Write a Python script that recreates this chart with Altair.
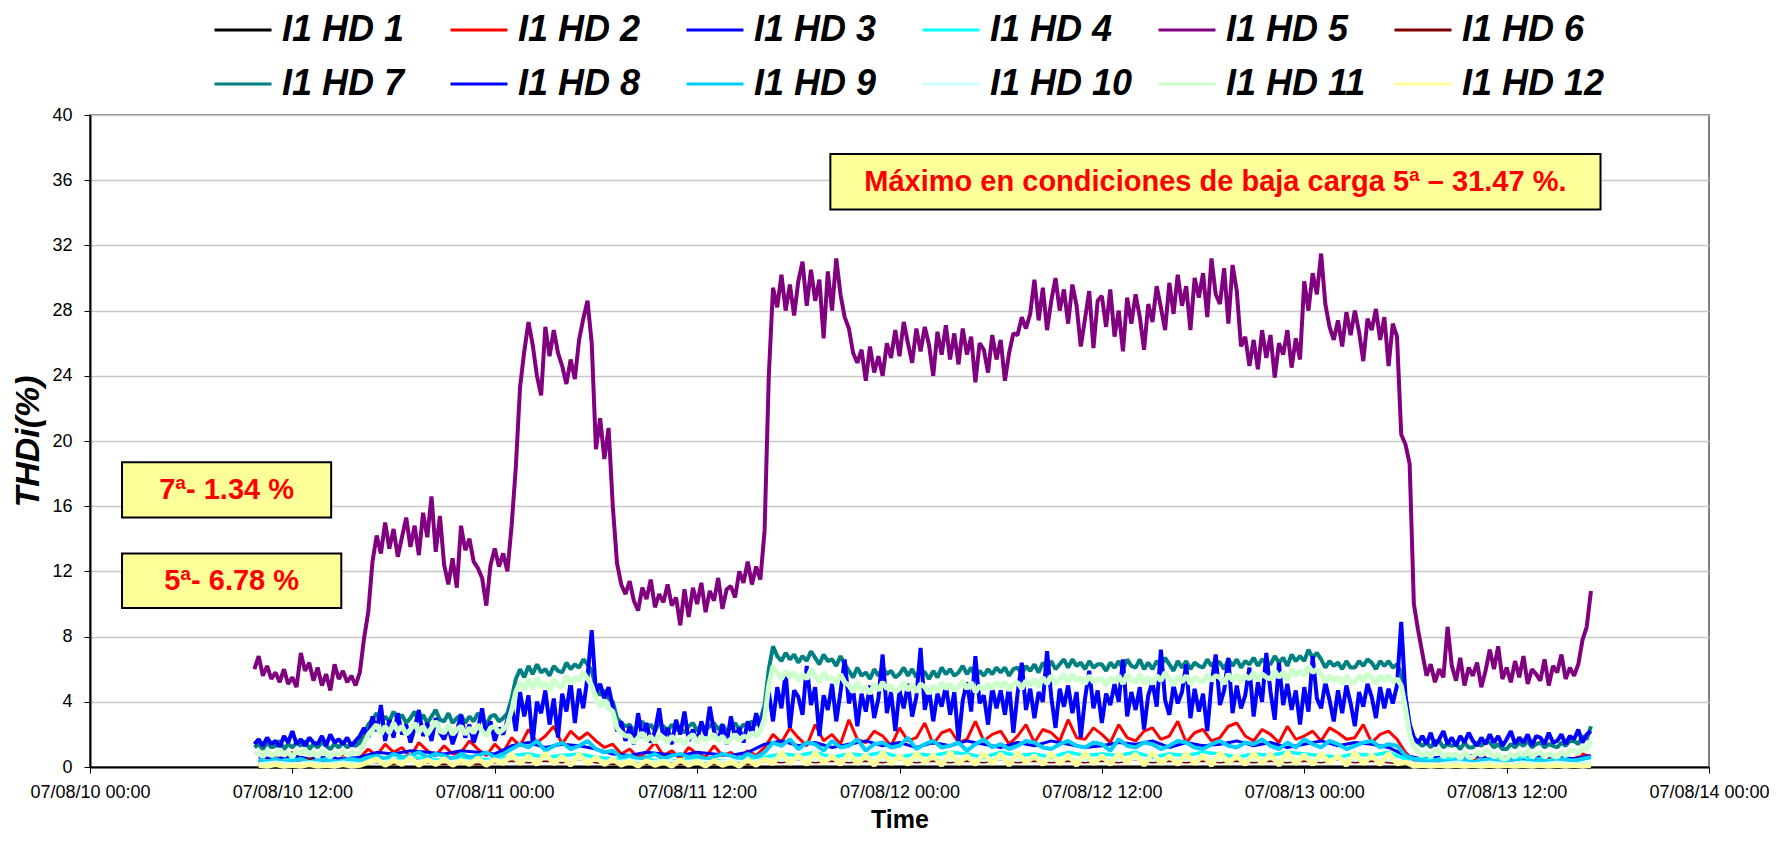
import altair as alt
import pandas as pd

SERIES = ["I1 HD 1", "I1 HD 2", "I1 HD 3", "I1 HD 4", "I1 HD 5", "I1 HD 6",
          "I1 HD 7", "I1 HD 8", "I1 HD 9", "I1 HD 10", "I1 HD 11", "I1 HD 12"]
COLORS = ["#000000", "#FF0000", "#0000FF", "#00FFFF", "#800080", "#800000",
          "#008080", "#0000FF", "#00CCFF", "#CCFFFF", "#CCFFCC", "#FFFF99"]

X_TICKS = ["2007-08-10 00:00", "2007-08-10 12:00", "2007-08-11 00:00", "2007-08-11 12:00",
           "2007-08-12 00:00", "2007-08-12 12:00", "2007-08-13 00:00", "2007-08-13 12:00",
           "2007-08-14 00:00"]
Y_TICKS = [0, 4, 8, 12, 16, 20, 24, 28, 32, 36, 40]

# 15-minute samples starting 2007-08-10 09:45
START_15 = "2007-08-10 09:45"
HD5 = [6.0,
       6.8, 5.6, 6.2, 5.4, 5.8, 5.2, 6.0, 5.1, 5.5, 4.9, 7.0, 5.9, 6.4, 5.3, 6.1, 5.0,
       5.7, 4.7, 6.3, 5.4, 5.9, 5.2, 5.6, 5.0, 5.8, 7.9, 9.5, 12.6,
       14.2, 13.1, 15.0, 13.4, 14.6, 12.9, 14.1, 15.3, 13.5, 14.8, 13.0, 15.6,
       14.1, 16.6, 13.2, 15.4, 12.4, 11.2, 12.8, 11.0, 14.8, 13.3, 14.0, 12.6,
       12.2, 11.6, 9.9, 12.4, 13.4, 12.3, 13.1, 12.0, 14.8, 18.4, 23.3, 25.5,
       27.3, 25.9, 24.0, 22.8, 27.0, 25.2, 26.8, 25.4, 24.6, 23.5, 25.0, 23.8,
       26.2, 27.5, 28.6, 26.0, 19.5, 21.4, 18.9, 20.8, 16.0, 12.5, 11.2, 10.6,
       11.4, 10.2, 9.6, 11.0, 10.3, 11.5, 9.8, 10.6, 10.1, 11.2, 9.9, 10.4,
       8.7, 10.9, 9.2, 11.0, 10.0, 11.3, 9.5, 10.8, 10.2, 11.6, 9.7, 10.9,
       11.1, 10.4, 12.0, 11.3, 12.6, 11.2, 12.3, 11.5, 14.5, 24.0, 29.4, 28.2,
       30.2, 28.0, 29.6, 27.7, 29.8, 31.0, 28.3, 30.5, 28.6, 29.9, 26.3, 30.4,
       28.0, 31.2, 29.0, 27.6, 26.9, 25.4, 24.8, 25.6, 23.7, 25.8, 24.2, 25.2,
       24.0, 26.0, 25.1, 26.8, 25.2, 27.3, 26.0, 24.8, 26.9, 25.5, 27.0, 25.9,
       24.0, 26.7, 25.3, 27.1, 25.0, 26.6, 24.7, 26.9, 25.3, 26.4, 23.6, 26.0,
       25.6, 24.2, 26.5, 25.0, 26.2, 23.7, 25.4, 26.6, 26.5, 27.6, 26.9, 27.8,
       29.9, 27.4, 29.4, 26.8, 28.6, 30.0, 28.0, 29.3, 27.2, 29.6, 28.3, 25.8,
       27.5, 29.2, 25.7, 28.6, 28.9, 27.0, 29.3, 26.4, 28.0, 25.5, 28.8, 27.2,
       29.0, 27.6, 25.6, 28.4, 27.3, 29.5, 28.2, 26.8, 29.7, 27.8, 30.2, 28.3,
       29.5, 26.8, 30.0, 28.8, 30.3, 27.6, 31.2, 29.0, 28.4, 30.6, 27.2, 30.8,
       29.2, 25.8, 26.4, 24.6, 26.2, 24.4, 26.8, 25.1, 26.5, 23.9, 26.0, 25.3,
       26.8, 24.5, 26.3, 25.0, 29.8, 28.0, 30.3, 29.0, 31.5, 28.4, 27.0, 26.2,
       27.4, 25.8, 27.9, 26.5, 28.0, 26.7, 24.9, 27.5, 26.8, 28.1, 26.2, 27.6,
       24.6, 27.2, 26.4, 20.4, 19.8, 18.6, 10.0, 8.4, 7.0, 5.6, 6.3, 5.2,
       6.0, 5.5, 8.6, 6.2, 5.3, 6.7, 5.0, 6.1, 5.6, 6.4, 4.9, 5.9,
       7.2, 6.0, 7.4, 5.4, 6.1, 5.2, 6.5, 5.5, 6.8, 5.1, 6.0, 5.7,
       5.3, 6.6, 5.0, 6.2, 5.8, 6.9, 5.4, 6.1, 5.6, 6.3, 7.8, 8.6,
       10.8]
HD8 = [1.4,
       1.7, 1.3, 1.8, 1.4, 1.6, 1.2, 1.9, 1.5, 2.2, 1.4, 1.7, 1.3, 1.8, 1.5, 1.4, 1.9,
       1.3, 2.0, 1.5, 1.7, 1.4, 1.8, 1.3, 1.6, 1.9, 2.4, 1.8, 3.1,
       2.2, 3.8, 1.6, 2.9, 1.8, 3.3, 2.0, 2.6, 1.5, 2.4, 3.5, 1.9,
       2.7, 1.6, 3.0, 2.1, 1.7, 2.5, 1.4, 2.2, 3.2, 1.8, 2.6, 1.5,
       2.3, 3.6, 1.9, 2.8, 1.6, 2.4, 2.0, 2.9, 3.8, 2.2, 4.6, 3.1,
       4.4, 1.5, 4.0, 3.3, 4.7, 2.6, 4.2, 1.8, 4.5, 3.4, 5.2, 2.7,
       4.8, 3.6, 5.5, 8.4, 4.6, 5.1, 4.2, 4.9, 3.7, 2.2, 2.8, 1.6,
       2.5, 1.4, 3.3, 1.8, 2.7, 1.5, 2.2, 3.6, 1.7, 2.4, 1.4, 2.9,
       2.0, 3.4, 1.6, 2.3, 1.5, 2.8, 1.9, 3.7, 2.2, 1.6, 2.6, 1.4,
       3.1, 1.8, 2.4, 1.5, 2.8, 2.0, 3.3, 2.4, 3.5, 4.6, 2.8, 4.9,
       3.6, 5.8, 2.4, 4.7, 4.3, 3.2, 6.2, 3.8, 4.9, 1.9, 4.4, 3.5,
       5.1, 2.8, 4.6, 6.6, 3.9, 4.8, 2.5, 4.5, 3.4, 5.0, 3.0, 4.2,
       6.9, 3.3, 4.6, 2.2, 4.7, 3.6, 5.1, 3.1, 4.3, 7.3, 3.5, 4.8,
       2.8, 4.5, 3.7, 5.0, 3.2, 4.6, 1.6, 4.1, 5.2, 3.4, 6.8, 3.9,
       4.4, 2.6, 4.9, 3.6, 4.7, 3.2, 5.0, 2.1, 4.5, 6.4, 3.5, 4.8,
       3.0, 4.6, 4.0, 7.1, 4.3, 2.4, 4.8, 3.7, 5.0, 3.3, 4.6, 1.8,
       4.2, 5.9, 3.6, 4.7, 2.7, 4.5, 3.8, 5.1, 4.0, 6.6, 3.1, 4.6,
       3.5, 4.9, 2.3, 4.4, 5.2, 3.7, 7.2, 4.1, 3.2, 5.0, 3.9, 4.6,
       6.3, 3.0, 4.8, 3.4, 4.5, 2.2, 5.1, 6.9, 3.8, 4.7, 6.7, 3.3,
       5.0, 3.6, 4.4, 6.1, 3.1, 5.2, 4.0, 7.0, 4.6, 2.9, 6.4, 3.8,
       5.1, 3.5, 4.7, 2.6, 4.9, 3.4, 6.8, 4.2, 3.6, 5.2, 4.1, 2.8,
       4.7, 3.3, 5.0, 3.9, 2.5, 4.6, 3.7, 5.1, 4.3, 3.0, 4.9, 3.6,
       4.8, 3.9, 5.0, 8.9, 4.4, 2.6, 1.8, 1.5, 1.9, 1.4, 2.1, 1.3,
       1.7, 2.2, 1.4, 1.8, 1.3, 1.9, 1.5, 2.1, 1.6, 1.3, 1.8, 1.4,
       2.0, 1.5, 1.9, 1.3, 1.7, 2.2, 1.4, 1.8, 1.5, 2.0, 1.3, 1.9,
       1.8, 1.4, 2.1, 1.5, 1.6, 2.0, 1.4, 1.9, 1.7, 2.3, 1.5, 2.0,
       2.2]
HD7 = [1.2,
       1.4, 1.1, 1.5, 1.2, 1.3, 1.6, 1.1, 1.4, 1.2, 1.5, 1.3, 1.6, 1.1, 1.4, 1.2, 1.5,
       1.3, 1.1, 1.4, 1.2, 1.5, 1.2, 1.4, 1.3, 1.5, 2.0, 2.6, 2.9,
       3.3, 2.7, 3.1, 2.8, 3.4, 2.9, 3.2, 2.7, 3.0, 3.4, 2.8, 3.2,
       2.7, 3.1, 3.5, 2.9, 2.8, 3.3, 2.7, 3.0, 3.2, 2.7, 3.1, 2.8,
       3.3, 2.9, 2.6, 3.1, 3.2, 2.8, 3.0, 3.3, 4.2, 5.4, 6.0, 5.5,
       6.2, 5.7, 6.3, 5.8, 6.0, 5.6, 6.2, 5.9, 5.8, 6.4, 6.0, 6.3,
       6.1, 6.6, 6.3, 5.9, 4.9, 4.4, 4.7, 4.2, 4.0, 3.0, 2.7, 2.5,
       2.6, 2.2, 2.5, 2.8, 2.3, 2.6, 2.2, 2.7, 2.5, 2.2, 2.6, 2.3,
       2.4, 2.1, 2.5, 2.7, 2.2, 2.6, 2.3, 2.5, 2.7, 2.3, 2.6, 2.2,
       2.4, 2.7, 2.3, 2.6, 2.5, 2.8, 2.6, 2.9, 3.8, 6.0, 7.4, 6.8,
       6.5, 7.0, 6.6, 6.9, 6.4, 6.8, 6.5, 7.1, 6.7, 6.3, 6.9, 6.5,
       6.6, 6.2, 6.8, 6.3, 5.9, 5.5, 6.1, 5.6, 5.8, 5.4, 6.0, 5.6,
       6.1, 5.7, 5.9, 5.5, 5.7, 6.1, 5.6, 6.0, 5.5, 6.0, 5.8, 5.4,
       5.9, 5.5, 6.1, 5.7, 6.0, 5.6, 5.8, 6.2, 5.7, 6.1, 5.5, 5.9,
       5.6, 6.0, 5.7, 6.1, 5.8, 6.1, 5.6, 6.0, 6.1, 5.7, 6.2, 5.9,
       6.3, 5.8, 6.4, 6.0, 6.5, 6.0, 6.3, 6.6, 6.1, 6.6, 6.2, 6.4,
       6.0, 6.5, 6.1, 6.3, 6.3, 5.9, 6.4, 6.1, 6.5, 6.0, 6.6, 6.2,
       6.1, 6.6, 6.0, 6.4, 6.0, 6.5, 6.2, 6.7, 6.3, 5.9, 6.5, 6.1,
       6.5, 6.0, 6.4, 6.2, 6.1, 6.6, 6.2, 6.5, 6.4, 6.0, 6.6, 6.2,
       6.6, 6.1, 6.5, 6.3, 6.7, 6.2, 6.6, 6.4, 6.3, 6.8, 6.4, 6.7,
       6.2, 6.9, 6.5, 6.8, 6.5, 7.2, 6.7, 7.0, 6.6, 6.1, 6.5, 6.2,
       6.4, 6.0, 6.5, 6.1, 6.1, 6.5, 6.2, 6.6, 6.4, 6.0, 6.5, 6.2,
       6.5, 6.1, 6.3, 5.8, 4.2, 2.6, 1.8, 1.5, 1.3, 1.5, 1.2, 1.6,
       1.6, 1.2, 1.4, 1.3, 1.4, 1.1, 1.5, 1.2, 1.2, 1.5, 1.3, 1.6,
       1.5, 1.2, 1.4, 1.1, 1.1, 1.4, 1.2, 1.5, 1.3, 1.6, 1.2, 1.4,
       1.5, 1.2, 1.4, 1.3, 1.2, 1.5, 1.3, 1.6, 1.6, 1.4, 1.9, 1.7,
       2.5]
HD11 = [0.8,
        0.9, 0.6, 1.0, 0.7, 0.8, 1.1, 0.7, 0.9, 0.6, 1.0, 0.8, 1.1, 0.7, 0.9, 0.6, 1.0,
        0.8, 0.6, 0.9, 0.7, 1.0, 0.7, 0.9, 0.8, 0.9, 1.4, 2.0, 2.3,
        2.6, 2.0, 2.5, 2.1, 2.7, 2.2, 2.5, 2.0, 2.3, 2.7, 2.1, 2.5,
        2.0, 2.4, 2.8, 2.2, 2.1, 2.6, 2.0, 2.3, 2.5, 2.0, 2.4, 2.1,
        2.6, 2.2, 1.9, 2.4, 2.5, 2.1, 2.3, 2.6, 3.5, 4.6, 5.2, 4.7,
        5.4, 4.8, 5.5, 4.9, 5.2, 4.7, 5.4, 5.0, 4.9, 5.6, 5.1, 5.5,
        5.3, 5.8, 5.4, 5.0, 4.2, 3.7, 4.1, 3.6, 3.4, 2.4, 2.1, 1.9,
        1.9, 1.5, 1.8, 2.1, 1.6, 1.9, 1.5, 2.0, 1.8, 1.5, 1.9, 1.6,
        1.7, 1.4, 1.8, 2.0, 1.5, 1.9, 1.6, 1.8, 2.0, 1.6, 1.9, 1.5,
        1.7, 2.0, 1.6, 1.9, 1.8, 2.1, 1.9, 2.2, 3.0, 5.0, 6.2, 5.8,
        5.4, 5.9, 5.5, 5.8, 5.3, 5.7, 5.4, 6.0, 5.6, 5.2, 5.8, 5.4,
        5.5, 5.1, 5.7, 5.2, 5.0, 4.6, 5.2, 4.7, 4.9, 4.5, 5.1, 4.7,
        5.2, 4.8, 5.0, 4.6, 4.8, 5.2, 4.7, 5.1, 4.6, 5.1, 4.9, 4.5,
        5.0, 4.6, 5.2, 4.8, 5.1, 4.7, 4.9, 5.3, 4.8, 5.2, 4.6, 5.0,
        4.7, 5.1, 4.8, 5.2, 4.9, 5.2, 4.7, 5.1, 5.2, 4.8, 5.3, 5.0,
        5.4, 4.9, 5.5, 5.1, 5.6, 5.1, 5.4, 5.7, 5.2, 5.7, 5.3, 5.5,
        5.1, 5.6, 5.2, 5.4, 5.4, 5.0, 5.5, 5.2, 5.6, 5.1, 5.7, 5.3,
        5.2, 5.7, 5.1, 5.5, 5.1, 5.6, 5.3, 5.8, 5.4, 5.0, 5.6, 5.2,
        5.6, 5.1, 5.5, 5.3, 5.2, 5.7, 5.3, 5.6, 5.5, 5.1, 5.7, 5.3,
        5.7, 5.2, 5.6, 5.4, 5.8, 5.3, 5.7, 5.5, 5.4, 5.9, 5.5, 5.8,
        5.3, 6.0, 5.6, 5.9, 5.6, 6.2, 5.8, 6.0, 5.7, 5.2, 5.6, 5.3,
        5.5, 5.1, 5.6, 5.2, 5.2, 5.6, 5.3, 5.7, 5.5, 5.1, 5.6, 5.3,
        5.6, 5.2, 5.4, 5.0, 3.6, 2.0, 1.2, 0.9, 0.7, 0.9, 0.6, 1.0,
        1.0, 0.6, 0.8, 0.7, 0.8, 0.5, 0.9, 0.6, 0.6, 0.9, 0.7, 1.0,
        0.9, 0.6, 0.8, 0.5, 0.5, 0.8, 0.6, 0.9, 0.7, 1.0, 0.6, 0.8,
        0.9, 0.6, 0.8, 0.7, 0.6, 0.9, 0.7, 1.0, 1.0, 0.8, 1.2, 1.1,
        1.6]

# 30-minute samples starting 2007-08-10 10:00
START_30 = "2007-08-10 10:00"
HD2 = [0.4, 0.2, 0.6, 0.3, 0.9, 0.4, 0.3, 0.7, 0.5, 0.2, 0.8, 0.4, 0.6, 1.1,
       0.7, 1.4, 0.9, 1.2, 0.6, 1.5, 1.0, 0.7, 1.3, 0.8, 0.9, 1.6, 1.1, 0.7, 1.4, 0.9,
       1.8, 1.3, 2.3, 1.5, 1.9, 2.5, 1.4, 2.2, 1.7, 2.1, 1.6, 1.2, 1.4, 0.8,
       1.1, 0.6, 0.9, 1.5, 0.7, 1.0, 0.5, 1.2, 0.8, 0.6, 1.3, 0.7, 0.9, 0.5, 1.0, 0.7,
       1.2, 2.0, 1.5, 2.4, 1.8, 1.3, 2.6, 1.6, 2.0, 1.4, 2.9, 1.7, 1.5, 2.2,
       1.9, 1.3, 2.4, 1.6, 1.8, 2.7, 1.4, 2.1, 2.3, 1.5, 1.7, 2.8, 1.6, 2.0,
       2.2, 1.4, 1.9, 2.6, 1.5, 2.3, 2.1, 1.6, 2.9, 1.8, 1.7, 2.4, 2.0, 1.5,
       2.6, 1.8, 1.6, 2.2, 2.4, 1.7, 1.9, 2.8, 1.5, 2.1, 2.3, 1.6, 1.8, 2.5,
       2.7, 1.9, 1.6, 2.3, 2.0, 1.5, 2.5, 1.7, 1.9, 2.2, 1.6, 2.4, 2.1, 1.7,
       1.8, 2.6, 1.5, 2.0, 2.2, 1.7, 0.9, 0.4, 0.3, 0.6, 0.2, 0.5, 0.7, 0.3,
       0.4, 0.8, 0.3, 0.5, 0.6, 0.2, 0.4, 0.7, 0.3, 0.5, 0.6, 0.3, 0.5, 0.8,
       0.6]
HD9 = [0.4, 0.3, 0.5, 0.3, 0.4, 0.5, 0.3, 0.4, 0.5, 0.3, 0.4, 0.5, 0.4, 0.6,
       0.7, 0.5, 0.8, 0.6, 0.7, 0.9, 0.6, 0.8, 0.7, 0.5, 0.8, 0.6, 0.7, 0.9, 0.6, 0.8,
       1.1, 1.4, 1.2, 1.6, 1.0, 1.3, 1.5, 1.1, 1.3, 1.6, 1.1, 0.9, 1.0, 0.6,
       0.7, 0.5, 0.6, 0.8, 0.5, 0.7, 0.8, 0.6, 0.7, 0.5, 0.6, 0.8, 0.7, 0.5, 0.8, 0.6,
       0.9, 1.5, 1.3, 1.7, 1.1, 1.5, 1.4, 1.0, 1.6, 1.2, 1.3, 1.7, 1.0, 1.4,
       1.5, 1.2, 1.3, 1.8, 1.1, 1.4, 1.6, 1.2, 1.3, 1.5, 1.0, 1.4, 1.7, 1.2,
       1.4, 1.1, 1.3, 1.6, 1.5, 1.2, 1.1, 1.4, 1.6, 1.3, 1.2, 1.5, 1.4, 1.0,
       1.7, 1.3, 1.2, 1.5, 1.4, 1.1, 1.3, 1.6, 1.5, 1.2, 1.1, 1.4, 1.6, 1.3,
       1.2, 1.5, 1.4, 1.7, 1.3, 1.1, 1.5, 1.2, 1.7, 1.4, 1.2, 1.6, 1.4, 1.1,
       1.3, 1.5, 1.6, 1.2, 1.4, 1.3, 0.7, 0.5, 0.4, 0.3, 0.5, 0.3, 0.4, 0.5,
       0.3, 0.4, 0.5, 0.3, 0.4, 0.5, 0.3, 0.4, 0.5, 0.3, 0.4, 0.5, 0.3, 0.5,
       0.6]
HD12 = [0.1, 0.05, 0.15, 0.05, 0.1, 0.05, 0.15, 0.05, 0.1, 0.05, 0.15, 0.05, 0.1, 0.3,
        0.5, 0.1, 0.4, 0.15, 0.6, 0.1, 0.45, 0.15, 0.5, 0.1, 0.4, 0.15, 0.55, 0.1, 0.45, 0.2,
        0.8, 0.2, 0.7, 0.15, 0.85, 0.2, 0.65, 0.1, 0.8, 0.2, 0.6, 0.15, 0.5, 0.1,
        0.35, 0.05, 0.4, 0.1, 0.3, 0.05, 0.45, 0.1, 0.35, 0.05, 0.4, 0.1, 0.3, 0.05, 0.45, 0.1,
        0.5, 0.2, 0.9, 0.2, 0.75, 0.15, 0.9, 0.25, 0.7, 0.15, 0.85, 0.2, 0.75, 0.1,
        0.9, 0.2, 0.7, 0.15, 0.85, 0.25, 0.75, 0.1, 0.9, 0.2, 0.7, 0.15, 0.85, 0.2,
        0.8, 0.1, 0.9, 0.25, 0.7, 0.15, 0.85, 0.2, 0.75, 0.1, 0.9, 0.2, 0.7, 0.15,
        0.85, 0.25, 0.8, 0.1, 0.9, 0.2, 0.7, 0.15, 0.85, 0.2, 0.75, 0.1, 0.9, 0.25,
        0.7, 0.15, 0.85, 0.2, 0.8, 0.1, 0.9, 0.2, 0.75, 0.15, 0.85, 0.25, 0.7, 0.1,
        0.9, 0.2, 0.75, 0.15, 0.85, 0.2, 0.3, 0.05, 0.1, 0.05, 0.1, 0.05, 0.1, 0.05,
        0.1, 0.05, 0.1, 0.05, 0.1, 0.05, 0.1, 0.05, 0.1, 0.05, 0.1, 0.05, 0.1, 0.05,
        0.1]

# hourly samples starting 2007-08-10 10:00
START_60 = "2007-08-10 10:00"
HD1 = [0.0, 0.0, 0.0, 0.0, 0.0, 0.0, 0.0, 0.0, 0.0, 0.0,
       0.0, 0.0, 0.0, 0.0, 0.0, 0.0, 0.0, 0.0, 0.0, 0.0,
       0.0, 0.0, 0.0, 0.0, 0.0, 0.0, 0.0, 0.0, 0.0, 0.0,
       0.0, 0.0, 0.0, 0.0, 0.0, 0.0, 0.0, 0.0, 0.0, 0.0,
       0.0, 0.0, 0.0, 0.0, 0.0, 0.0, 0.0, 0.0, 0.0, 0.0,
       0.0, 0.0, 0.0, 0.0, 0.0, 0.0, 0.0, 0.0, 0.0, 0.0,
       0.0, 0.0, 0.0, 0.0, 0.0, 0.0, 0.0, 0.0, 0.0, 0.0,
       0.0, 0.0, 0.0, 0.0, 0.0, 0.0, 0.0, 0.0, 0.0, 0.0]
HD3 = [0.6, 0.5, 0.7, 0.5, 0.6, 0.5, 0.6, 0.9, 0.8, 1.0,
       0.9, 0.8, 1.0, 0.9, 0.8, 1.3, 1.5, 1.2, 1.4, 1.3,
       1.1, 0.8, 0.7, 0.9, 0.8, 0.7, 0.9, 0.8, 0.7, 0.9,
       1.4, 1.6, 1.3, 1.5, 1.2, 1.4, 1.6, 1.3, 1.5, 1.2,
       1.5, 1.3, 1.6, 1.4, 1.2, 1.5, 1.3, 1.6, 1.4, 1.2,
       1.3, 1.5, 1.4, 1.6, 1.2, 1.5, 1.3, 1.4, 1.6, 1.3,
       1.5, 1.2, 1.4, 1.6, 1.3, 1.5, 1.4, 1.2, 0.7, 0.5,
       0.6, 0.5, 0.7, 0.5, 0.6, 0.5, 0.7, 0.6, 0.5, 0.7]
HD4 = [0.4, 0.3, 0.5, 0.3, 0.4, 0.3, 0.4, 0.5, 0.4, 0.6,
       0.5, 0.4, 0.6, 0.5, 0.4, 0.7, 0.8, 0.6, 0.7, 0.8,
       0.6, 0.5, 0.4, 0.5, 0.3, 0.4, 0.5, 0.4, 0.3, 0.5,
       0.6, 0.8, 0.7, 0.9, 0.6, 0.8, 0.7, 0.9, 0.6, 0.8,
       0.7, 0.9, 0.8, 0.6, 0.9, 0.7, 0.8, 0.6, 0.9, 0.7,
       0.8, 0.7, 0.9, 0.6, 0.8, 0.7, 0.9, 0.8, 0.6, 0.8,
       0.7, 0.9, 0.8, 0.7, 0.6, 0.8, 0.7, 0.9, 0.5, 0.5,
       0.4, 0.6, 0.3, 0.5, 0.4, 0.6, 0.3, 0.5, 0.4, 0.6]
HD6 = [0.2, 0.1, 0.3, 0.5, 0.2, 0.1, 0.2, 0.3, 0.2, 0.4,
       0.3, 0.2, 0.3, 0.2, 0.3, 0.4, 0.3, 0.4, 0.3, 0.5,
       0.3, 0.2, 0.3, 0.2, 0.3, 0.2, 0.3, 0.2, 0.3, 0.2,
       0.4, 0.3, 0.5, 0.3, 0.4, 0.3, 0.4, 0.3, 0.5, 0.3,
       0.4, 0.3, 0.4, 0.3, 0.5, 0.3, 0.4, 0.3, 0.4, 0.3,
       0.4, 0.3, 0.5, 0.3, 0.4, 0.3, 0.4, 0.3, 0.4, 0.3,
       0.4, 0.3, 0.4, 0.3, 0.5, 0.3, 0.4, 0.3, 0.2, 0.1,
       0.2, 0.1, 0.2, 0.1, 0.2, 0.1, 0.2, 0.1, 0.2, 0.1]
HD10 = [0.2, 0.3, 0.2, 0.3, 0.2, 0.3, 0.2, 0.3, 0.4, 0.3,
        0.4, 0.3, 0.4, 0.3, 0.4, 0.5, 0.4, 0.5, 0.4, 0.5,
        0.4, 0.3, 0.4, 0.3, 0.4, 0.3, 0.4, 0.3, 0.4, 0.3,
        0.5, 0.4, 0.5, 0.4, 0.5, 0.4, 0.5, 0.4, 0.5, 0.4,
        0.5, 0.4, 0.5, 0.4, 0.5, 0.4, 0.5, 0.4, 0.5, 0.4,
        0.5, 0.4, 0.5, 0.4, 0.5, 0.4, 0.5, 0.4, 0.5, 0.4,
        0.5, 0.4, 0.5, 0.4, 0.5, 0.4, 0.5, 0.4, 0.3, 0.2,
        0.2, 0.3, 0.2, 0.3, 0.2, 0.3, 0.2, 0.3, 0.2, 0.3]

SERIES_DATA = [
    (HD1, START_60, 60), (HD2, START_30, 30), (HD3, START_60, 60), (HD4, START_60, 60),
    (HD5, START_15, 15), (HD6, START_60, 60), (HD7, START_15, 15), (HD8, START_15, 15),
    (HD9, START_30, 30), (HD10, START_60, 60), (HD11, START_15, 15), (HD12, START_30, 30),
]
STROKE = [3, 3, 3, 3.5, 4, 3, 4, 4, 4, 3, 5, 5]

NOTE_TEXT = ["Máximo en condiciones de baja carga 5ª – 31.47 %.", "7ª- 1.34 %", "5ª- 6.78 %"]
NOTE_T1 = ["2007-08-11 19:54", "2007-08-10 01:54", "2007-08-10 01:54"]
NOTE_T2 = ["2007-08-13 17:34", "2007-08-10 14:18", "2007-08-10 14:54"]
NOTE_V1 = [34.2, 15.3, 9.75]
NOTE_V2 = [37.6, 18.7, 13.1]


def ms(s):
    return int(pd.Timestamp(s, tz="UTC").value // 10**6)


def series_frame(name, values, start, step):
    t0 = pd.Timestamp(start, tz="UTC")
    times = [int((t0 + pd.Timedelta(minutes=step * i)).value // 10**6) for i in range(len(values))]
    return pd.DataFrame({"t": times, "v": values, "s": name})


FONT = "Liberation Sans"

x_enc = alt.X("t:T", title="Time",
              scale=alt.Scale(type="utc", domain=[ms(X_TICKS[0]), ms(X_TICKS[-1])]),
              axis=alt.Axis(values=[ms(t) for t in X_TICKS], format="%y/%m/%d %H:%M",
                            grid=False, labelFontSize=18, labelFont=FONT, labelColor="#000000",
                            labelPadding=10, tickSize=6, tickColor="#000000",
                            domainColor="#000000", domainWidth=2, labelFlush=False,
                            labelOverlap=False,
                            titleFontSize=25, titleFont=FONT, titleFontWeight="bold",
                            titleColor="#000000", titlePadding=6))
y_enc = alt.Y("v:Q", title="THDi(%)",
              scale=alt.Scale(domain=[0, 40], nice=False, zero=True),
              axis=alt.Axis(values=Y_TICKS, grid=True, gridColor="#C8C8C8", gridWidth=1.5,
                            labelFontSize=18, labelFont=FONT, labelColor="#000000",
                            labelPadding=12, tickSize=6, tickColor="#000000",
                            domainColor="#000000", domainWidth=2,
                            titleFontSize=34, titleFont=FONT, titleFontWeight="bold",
                            titleFontStyle="italic", titleColor="#000000", titlePadding=6))
color_enc = alt.Color("s:N", scale=alt.Scale(domain=SERIES, range=COLORS),
                      legend=alt.Legend(title=None, orient="none", legendX=123, legendY=-115,
                                        direction="horizontal", columns=6, gridAlign="all",
                                        symbolType="stroke", symbolSize=3249,
                                        symbolStrokeWidth=3, labelFontSize=36, labelFont=FONT,
                                        labelFontStyle="italic", labelFontWeight="bold",
                                        labelColor="#000000", labelOffset=9, labelLimit=400,
                                        columnPadding=19, rowPadding=6))

layers = []
for name, (vals, start, step), sw in zip(SERIES, SERIES_DATA, STROKE):
    df = series_frame(name, vals, start, step)
    layers.append(alt.Chart(df).mark_line(strokeWidth=sw, strokeJoin="bevel").encode(
        x=x_enc, y=y_enc, color=color_enc))

notes = pd.DataFrame({"text": NOTE_TEXT,
                      "t1": [ms(t) for t in NOTE_T1], "t2": [ms(t) for t in NOTE_T2],
                      "v1": NOTE_V1, "v2": NOTE_V2})
notes["tc"] = (notes["t1"] + notes["t2"]) / 2
notes["vc"] = (notes["v1"] + notes["v2"]) / 2

boxes = alt.Chart(notes).mark_rect(fill="#FFFF99", stroke="#000000", strokeWidth=2).encode(
    x=alt.X("t1:T"), x2="t2:T", y=alt.Y("v1:Q"), y2="v2:Q")
labels = alt.Chart(notes).mark_text(font=FONT, fontWeight="bold", fontSize=29, color="#FF0000",
                                   align="center", baseline="middle").encode(
    x=alt.X("tc:T"), y=alt.Y("vc:Q"), text="text:N")

chart = alt.layer(*layers, boxes, labels).properties(
    width=1619, height=652,
    autosize=alt.AutoSizeParams(type="none"),
    padding={"left": 82, "top": 107, "right": 75, "bottom": 68},
).configure_view(stroke="#808080", strokeWidth=2)

chart.save("out.html", embed_options={"renderer": "svg", "actions": False})
